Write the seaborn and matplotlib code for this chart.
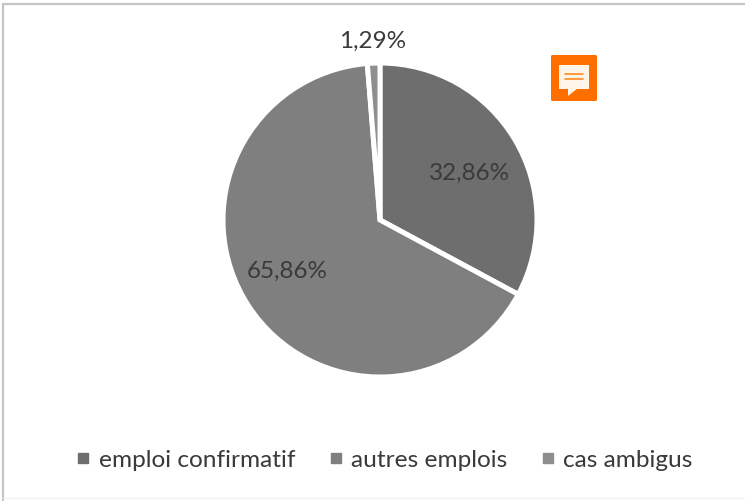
import matplotlib
matplotlib.use("Agg")
import matplotlib.pyplot as plt
from matplotlib.lines import Line2D
from matplotlib.patches import FancyBboxPatch, Polygon, Rectangle
import seaborn as sns

categories = ["emploi confirmatif", "autres emplois", "cas ambigus"]
values = [32.86, 65.86, 1.29]
labels = ["32,86%", "65,86%", "1,29%"]
colors = ["#6e6e6e", "#7f7f7f", "#8e8e8e"]

sns.set_theme(style="white")
plt.rcParams["font.family"] = ["Lato", "DejaVu Sans"]

W, H = 745, 501
text_color = "#3a3a3a"

fig = plt.figure(figsize=(W / 100, H / 100), dpi=100, facecolor="white")

# frame of the pasted screenshot, in pixels
bg = fig.add_axes([0, 0, 1, 1])
bg.set_xlim(0, W)
bg.set_ylim(H, 0)
bg.axis("off")
bg.plot([3, W], [4, 4], color="#c4c4c4", lw=1.6)
bg.plot([3, 3], [4, H], color="#c4c4c4", lw=1.6)
bg.plot([3, W], [498, 498], color="#f0f0f0", lw=1)

# orange comment icon
bg.add_patch(FancyBboxPatch((551, 55), 46, 46, boxstyle="round,pad=0,rounding_size=1.5",
                            fc="#ff6f00", ec="none"))
bg.add_patch(Rectangle((559, 65), 30, 24, fc="#fff4e8", ec="none"))
bg.add_patch(Polygon([[568, 88], [568, 96], [578, 88]], fc="#fff4e8", ec="none"))
bg.plot([565, 583], [74, 74], color="#ff8a20", lw=1.2)
bg.plot([565, 583], [78.5, 78.5], color="#ff8a20", lw=1.2)

# pie centred on (380, 220)
ax = fig.add_axes([223 / W, 1 - 377 / H, 314 / W, 314 / H])
wedges, _ = ax.pie(values, colors=colors, startangle=90, counterclock=False, radius=1.0,
                   wedgeprops=dict(edgecolor="white", linewidth=3.6))
ax.set_xlim(-1, 1)
ax.set_ylim(-1, 1)

label_pos = [(0.57, 0.295), (-0.59, -0.33), (-0.05, 1.135)]
for lab, (x, y) in zip(labels, label_pos):
    ax.text(x, y, lab, ha="center", va="center", fontsize=17.5, color=text_color, clip_on=False)

handles = [Line2D([], [], ls="", marker="s", ms=6.5, color=c) for c in colors]
fig.legend(handles, categories, loc="center", bbox_to_anchor=(382 / W, 1 - 460 / H), ncol=3,
           frameon=False, fontsize=17.6, labelcolor=text_color, handletextpad=0.15,
           columnspacing=1.13, handlelength=1.0)

fig.savefig("out.png", dpi=100)
